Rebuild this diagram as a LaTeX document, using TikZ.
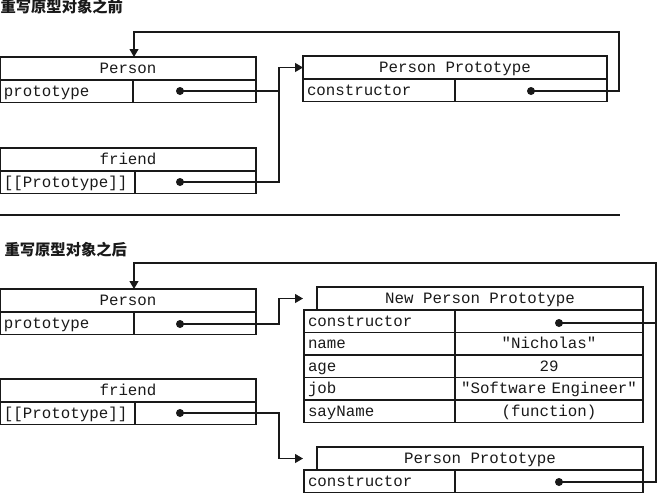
\documentclass[tikz,border=0pt]{standalone}
\usepackage{fontspec}
\usepackage{tikz}
\usetikzlibrary{arrows.meta,positioning}
\newfontfamily\mono{Liberation Mono}
\newfontfamily\cjk{Noto Sans CJK SC}
\definecolor{Ink}{RGB}{25,25,25}

\begin{document}
\begin{tikzpicture}[x=1pt, y=-1pt, line width=1.1pt, Ink,
    cell/.style={draw, anchor=north west, inner xsep=4pt, inner ysep=0pt, outer sep=0pt,
        minimum height=22.5pt, text height=11pt, text depth=1pt,
        font=\mono\fontsize{15.8}{16}\selectfont},
    head/.style={cell, minimum height=23pt, align=center},
    key/.style={cell, align=left},
    val/.style={cell, align=center},
    dot/.style={circle, fill=Ink, inner sep=0pt, minimum size=8pt},
    caption/.style={anchor=west, inner sep=0pt, font=\cjk\bfseries\fontsize{15.3}{16}\selectfont},
    link/.style={draw, line width=1.1pt},
    tip/.style={-{Triangle[length=8pt,width=9pt]}}
]
    %%Background
    \useasboundingbox (0,0) rectangle (660,498);

    %% Before
    \node[caption] (before) at (0,7) {重写原型对象之前};

    \node[head, minimum width=256pt] (person) at (0,57) {Person};
    \node[key, text width=125pt] (pkey) at (person.south west) {prototype};
    \node[val, text width=115pt] (pval) at (pkey.north east) {};
    \node[dot] (pdot) at (180,91) {};

    \node[head, minimum width=256pt] (friend) at (0,148) {friend};
    \node[key, text width=127pt] (fkey) at (friend.south west) {[[Prototype]]};
    \node[val, text width=113pt] (fval) at (fkey.north east) {};
    \node[dot] (fdot) at (180,182) {};

    \node[head, minimum width=304pt] (proto) at (303,56) {Person Prototype};
    \node[key, text width=144pt] (ckey) at (proto.south west) {constructor};
    \node[val, text width=144pt] (cval) at (ckey.north east) {};
    \node[dot] (cdot) at (531,91) {};

    \coordinate (bus1) at ([xshift=-24pt]proto.west);
    \coordinate (back1) at ([xshift=12pt,yshift=24pt]proto.north east);

    \draw[link, tip] (pdot.center) -| (bus1) -- (proto.west);
    \draw[link] (fdot.center) -| (bus1);
    \draw[link, tip] (cdot.center) -| (back1) -| ([xshift=6pt]person.north);

    %% Rule
    \draw[line width=1.4pt] (0,215) -- (620,215);

    %% After
    \node[caption] (after) at (4,250) {重写原型对象之后};

    \node[head, minimum width=256pt] (person2) at (0,289) {Person};
    \node[key, text width=126pt] (pkey2) at (person2.south west) {prototype};
    \node[val, text width=114pt] (pval2) at (pkey2.north east) {};
    \node[dot] (pdot2) at (180,324) {};

    \node[head, minimum width=256pt] (friend2) at (0,379) {friend};
    \node[key, text width=127pt] (fkey2) at (friend2.south west) {[[Prototype]]};
    \node[val, text width=113pt] (fval2) at (fkey2.north east) {};
    \node[dot] (fdot2) at (180,413) {};

    %new prototype
    \node[head, minimum width=326pt] (npt) at (317,287) {New Person Prototype};
    \node[key, text width=143pt] (nkey1) at ([xshift=-13pt]npt.south west) {constructor};
    \node[key, text width=143pt] (nkey2) at (nkey1.south west) {name};
    \node[key, text width=143pt] (nkey3) at (nkey2.south west) {age};
    \node[key, text width=143pt] (nkey4) at (nkey3.south west) {job};
    \node[key, text width=143pt] (nkey5) at (nkey4.south west) {sayName};
    \node[val, text width=180pt] (nval1) at (nkey1.north east) {};
    \node[val, text width=180pt] (nval2) at (nkey2.north east) {"Nicholas"};
    \node[val, text width=180pt] (nval3) at (nkey3.north east) {29};
    \node[val, text width=182pt, inner xsep=3pt] (nval4) at (nkey4.north east) {"Software Engineer"};
    \node[val, text width=180pt] (nval5) at (nkey5.north east) {(function)};
    \node[dot] (ndot) at (559,323) {};

    %old prototype
    \node[head, minimum width=326pt] (opt) at (317,447) {Person Prototype};
    \node[key, text width=143pt] (okey) at ([xshift=-13pt]opt.south west) {constructor};
    \node[val, text width=180pt] (oval) at (okey.north east) {};
    \node[dot] (odot) at (559,482) {};

    \coordinate (bus2) at ([xshift=-38pt]npt.west);
    \coordinate (nin) at ([xshift=-14pt]npt.west);
    \coordinate (bus3) at ([xshift=-38pt]opt.west);
    \coordinate (oin) at ([xshift=-14pt]opt.west);
    \coordinate (back2) at ([xshift=13pt,yshift=24pt]npt.north east);

    \draw[link, tip] (pdot2.center) -| (bus2) -- (nin);
    \draw[link, tip] (fdot2.center) -| (bus3) -- (oin);
    \draw[link] (ndot.center) -- (ndot -| back2);
    \draw[link, tip] (odot.center) -| (back2) -| ([xshift=6pt]person2.north);

\end{tikzpicture}
\end{document}
